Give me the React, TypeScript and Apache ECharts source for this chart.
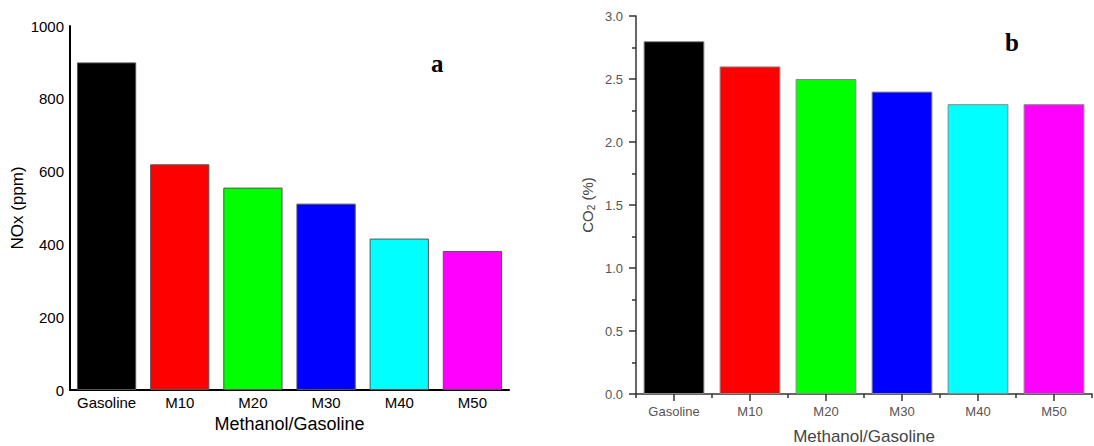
import React, { useEffect, useRef } from "react";
import * as echarts from "echarts";

const categories = ["Gasoline", "M10", "M20", "M30", "M40", "M50"];
const noxValues = [900, 620, 556, 512, 416, 382];
const co2Values = [2.8, 2.6, 2.5, 2.4, 2.3, 2.3];
const barColors = ["#000000", "#ff0000", "#00ff00", "#0000ff", "#00ffff", "#ff00ff"];

const FONT = "Liberation Sans, Arial, sans-serif";

export default function App() {
  const ref = useRef<HTMLDivElement>(null);
  useEffect(() => {
    const chart = echarts.init(ref.current!, null, { renderer: "svg" });
    const mk = (vals: number[], border: string) =>
      vals.map((v, i) => ({
        value: v,
        itemStyle: { color: barColors[i], borderColor: border, borderWidth: 1 },
      }));
    chart.setOption({
      animation: false,
      backgroundColor: "#ffffff",
      grid: [
        { left: 70, top: 26, width: 439, height: 364, outerBoundsMode: "none", containLabel: false },
        { left: 636, top: 16, width: 456, height: 378, outerBoundsMode: "none", containLabel: false },
      ],
      xAxis: [
        {
          type: "category",
          gridIndex: 0,
          data: categories,
          axisLine: { lineStyle: { color: "#000", width: 2 } },
          axisTick: { show: false },
          axisLabel: { color: "#000", fontFamily: FONT, fontSize: 15, margin: 5, interval: 0 },
          name: "Methanol/Gasoline",
          nameLocation: "middle",
          nameGap: 25,
          nameTextStyle: { color: "#000", fontFamily: FONT, fontSize: 18 },
        },
        {
          type: "category",
          gridIndex: 1,
          data: categories,
          axisLine: { lineStyle: { color: "#333", width: 1.5 } },
          axisTick: { show: true, alignWithLabel: true, interval: 0, length: 7, lineStyle: { color: "#333", width: 1.5 } },
          axisLabel: { color: "#555", fontFamily: FONT, fontSize: 13, margin: 11, interval: 0 },
          name: "Methanol/Gasoline",
          nameLocation: "middle",
          nameGap: 34,
          nameTextStyle: { color: "#444", fontFamily: FONT, fontSize: 17 },
        },
        {
          type: "category",
          gridIndex: 1,
          data: categories,
          position: "bottom",
          axisLine: { show: false },
          axisTick: { show: true, interval: 0, length: 4, lineStyle: { color: "#333", width: 1.5 } },
          axisLabel: { show: false },
        },
      ],
      yAxis: [
        {
          type: "value",
          gridIndex: 0,
          min: 0,
          max: 1000,
          interval: 200,
          splitLine: { show: false },
          axisLine: { show: true, lineStyle: { color: "#000", width: 2 } },
          axisTick: { show: false },
          axisLabel: {
            color: "#000",
            fontFamily: FONT,
            fontSize: 15,
            margin: 6,
            formatter: (v: number) => String(v),
          },
          name: "NOx (ppm)",
          nameLocation: "middle",
          nameGap: 44,
          nameTextStyle: { color: "#000", fontFamily: FONT, fontSize: 17 },
        },
        {
          type: "value",
          gridIndex: 1,
          min: 0,
          max: 3,
          interval: 0.5,
          splitLine: { show: false },
          axisLine: { show: true, lineStyle: { color: "#333", width: 1.5 } },
          axisTick: { show: true, length: 7, lineStyle: { color: "#333", width: 1.5 } },
          minorTick: { show: true, splitNumber: 2, length: 4, lineStyle: { color: "#333", width: 1.5 } },
          axisLabel: {
            color: "#555",
            fontFamily: FONT,
            fontSize: 13,
            margin: 13,
            formatter: (v: number) => v.toFixed(1),
          },
          name: "CO{sub|2} (%)",
          nameLocation: "middle",
          nameGap: 40,
          nameTextStyle: {
            color: "#444",
            fontFamily: FONT,
            fontSize: 15,
            rich: {
              sub: { fontSize: 10, color: "#444", fontFamily: FONT, verticalAlign: "bottom", padding: [7, 0, 0, 0] },
            },
          },
        },
      ],
      series: [
        {
          type: "bar",
          xAxisIndex: 0,
          yAxisIndex: 0,
          data: mk(noxValues, "#555"),
          barCategoryGap: "19%",
        },
        {
          type: "bar",
          xAxisIndex: 1,
          yAxisIndex: 1,
          data: mk(co2Values, "#888"),
          barCategoryGap: "20%",
        },
      ],
      graphic: [
        {
          type: "text",
          left: 431,
          top: 51,
          style: { text: "a", fontFamily: "Liberation Serif, Times New Roman, serif", fontWeight: "bold", fontSize: 25, fill: "#000" },
        },
        {
          type: "text",
          left: 1005,
          top: 30,
          style: { text: "b", fontFamily: "Liberation Serif, Times New Roman, serif", fontWeight: "bold", fontSize: 25, fill: "#000" },
        },
      ],
    });
    return () => chart.dispose();
  }, []);
  return <div ref={ref} style={{ width: 1094, height: 446, position: "absolute", left: 0, top: 0 }} />;
}
